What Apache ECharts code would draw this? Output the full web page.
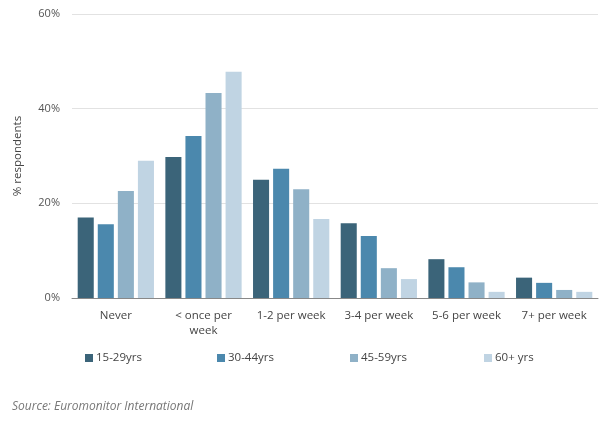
<!DOCTYPE html>
<html><head><meta charset="utf-8">
<script src="https://cdn.jsdelivr.net/npm/echarts@6/dist/echarts.min.js"></script>
<style>html,body{margin:0;padding:0;background:#fff}#c{width:616px;height:421px}</style>
</head><body><div id="c"></div>
<script>
const categories = ['Never', '< once per\nweek', '1-2 per week', '3-4 per week', '5-6 per week', '7+ per week'];
const seriesNames = ['15-29yrs', '30-44yrs', '45-59yrs', '60+ yrs'];
const s1529 = [17, 29.8, 25, 15.8, 8.2, 4.3];
const s3044 = [15.6, 34.2, 27.3, 13.1, 6.5, 3.2];
const s4559 = [22.6, 43.3, 23, 6.3, 3.3, 1.7];
const s60 = [29, 47.8, 16.7, 4.0, 1.3, 1.3];
const yTicks = [0, 20, 40, 60];
const colors = ['#3b6479', '#4b88ad', '#8fb1c7', '#c0d4e3'];
const values = [s1529, s3044, s4559, s60];
const font = '"Open Sans", sans-serif';
const legendX = [85, 217, 350, 484];

const chart = echarts.init(document.getElementById('c'));
chart.setOption({
  animation: false,
  textStyle: { fontFamily: font },
  grid: { left: 72, right: 18, top: 14, bottom: 123 },
  legend: seriesNames.map((n, i) => ({
    data: [n], left: legendX[i], top: 352, padding: 0, itemWidth: 8, itemHeight: 8, itemGap: 0,
    icon: 'rect', textStyle: { fontFamily: font, fontSize: 11.5, color: '#444', padding: [0, 0, 0, -2] }
  })),
  xAxis: {
    type: 'category', data: categories,
    axisLine: { lineStyle: { color: '#888', width: 1 } },
    axisTick: { show: false },
    axisLabel: { fontFamily: font, fontSize: 11.5, color: '#444', margin: 10, lineHeight: 15, interval: 0 }
  },
  yAxis: {
    type: 'value', min: 0, max: 60, interval: 20,
    name: '% respondents', nameLocation: 'middle', nameGap: 48, nameRotate: 90,
    nameTextStyle: { fontFamily: font, fontSize: 11.5, color: '#444' },
    axisLabel: { formatter: v => yTicks.includes(v) ? v + '%' : '', fontFamily: font, fontSize: 11, color: '#555', margin: 12 },
    splitLine: { lineStyle: { color: '#e2e2e2' } },
    axisLine: { show: false }, axisTick: { show: false }
  },
  series: seriesNames.map((n, i) => ({
    name: n, type: 'bar', data: values[i], itemStyle: { color: colors[i] },
    barGap: '25%', barCategoryGap: '13%'
  })),
  graphic: [{
    type: 'text', left: 12, top: 401,
    style: { text: 'Source: Euromonitor International', fontFamily: font, fontSize: 12, fontStyle: 'italic', fill: '#777' }
  }]
});
</script></body></html>
